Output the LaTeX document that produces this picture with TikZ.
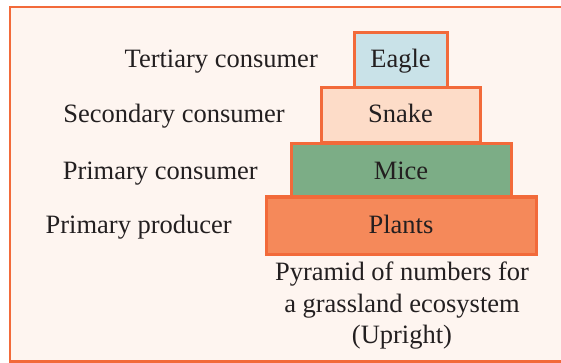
\documentclass[tikz,border=0pt]{standalone}
\usepackage{fontspec}
\setmainfont{Liberation Serif}
\definecolor{edge}{HTML}{F26A3A}
\definecolor{paper}{HTML}{FEF5F0}
\definecolor{eaglec}{HTML}{C9E2E8}
\definecolor{snakec}{HTML}{FDDCC8}
\definecolor{micec}{HTML}{7CAD86}
\definecolor{plantc}{HTML}{F5895A}
\definecolor{ink}{HTML}{231F20}
\begin{document}
\begin{tikzpicture}[x=1pt,y=-1pt,
  every node/.style={font=\fontsize{26.5}{31}\selectfont, text=ink},
  tier/.style={draw=edge, line width=3pt, inner sep=0pt},
  lab/.style={inner sep=0pt, anchor=base east},
  captext/.style={inner sep=0pt, anchor=base}]
\useasboundingbox (0,0) rectangle (561,363);
\fill[white] (0,0) rectangle (561,363);
\draw[edge, line width=2.8pt, fill=paper] (10,7) rectangle (575,361.5);
% tiers (drawn bottom to top so upper ones overlap)
\path[tier, fill=plantc] (266,197) rectangle (536,254);
\path[tier, fill=micec] (291,144) rectangle (511,197);
\path[tier, fill=snakec] (321,88) rectangle (480,143);
\path[tier, fill=eaglec] (354,33) rectangle (447,88);
\node[captext] (eagle) at (400.5,68) {Eagle};
\node[captext] (snake) at (400.5,123) {Snake};
\node[captext] (mice) at (401,180) {Mice};
\node[captext] (plants) at (401,233) {Plants};
\node[lab] (t3) at (318,68) {Tertiary consumer};
\node[lab] (t2) at (285,123) {Secondary consumer};
\node[lab] (t1) at (258,180) {Primary consumer};
\node[lab] (t0) at (232,233) {Primary producer};
\node[captext] (c1) at (402,280) {Pyramid of numbers for};
\node[captext] (c2) at (402,312) {a grassland ecosystem};
\node[captext] (c3) at (402,343) {(Upright)};
\end{tikzpicture}
\end{document}
